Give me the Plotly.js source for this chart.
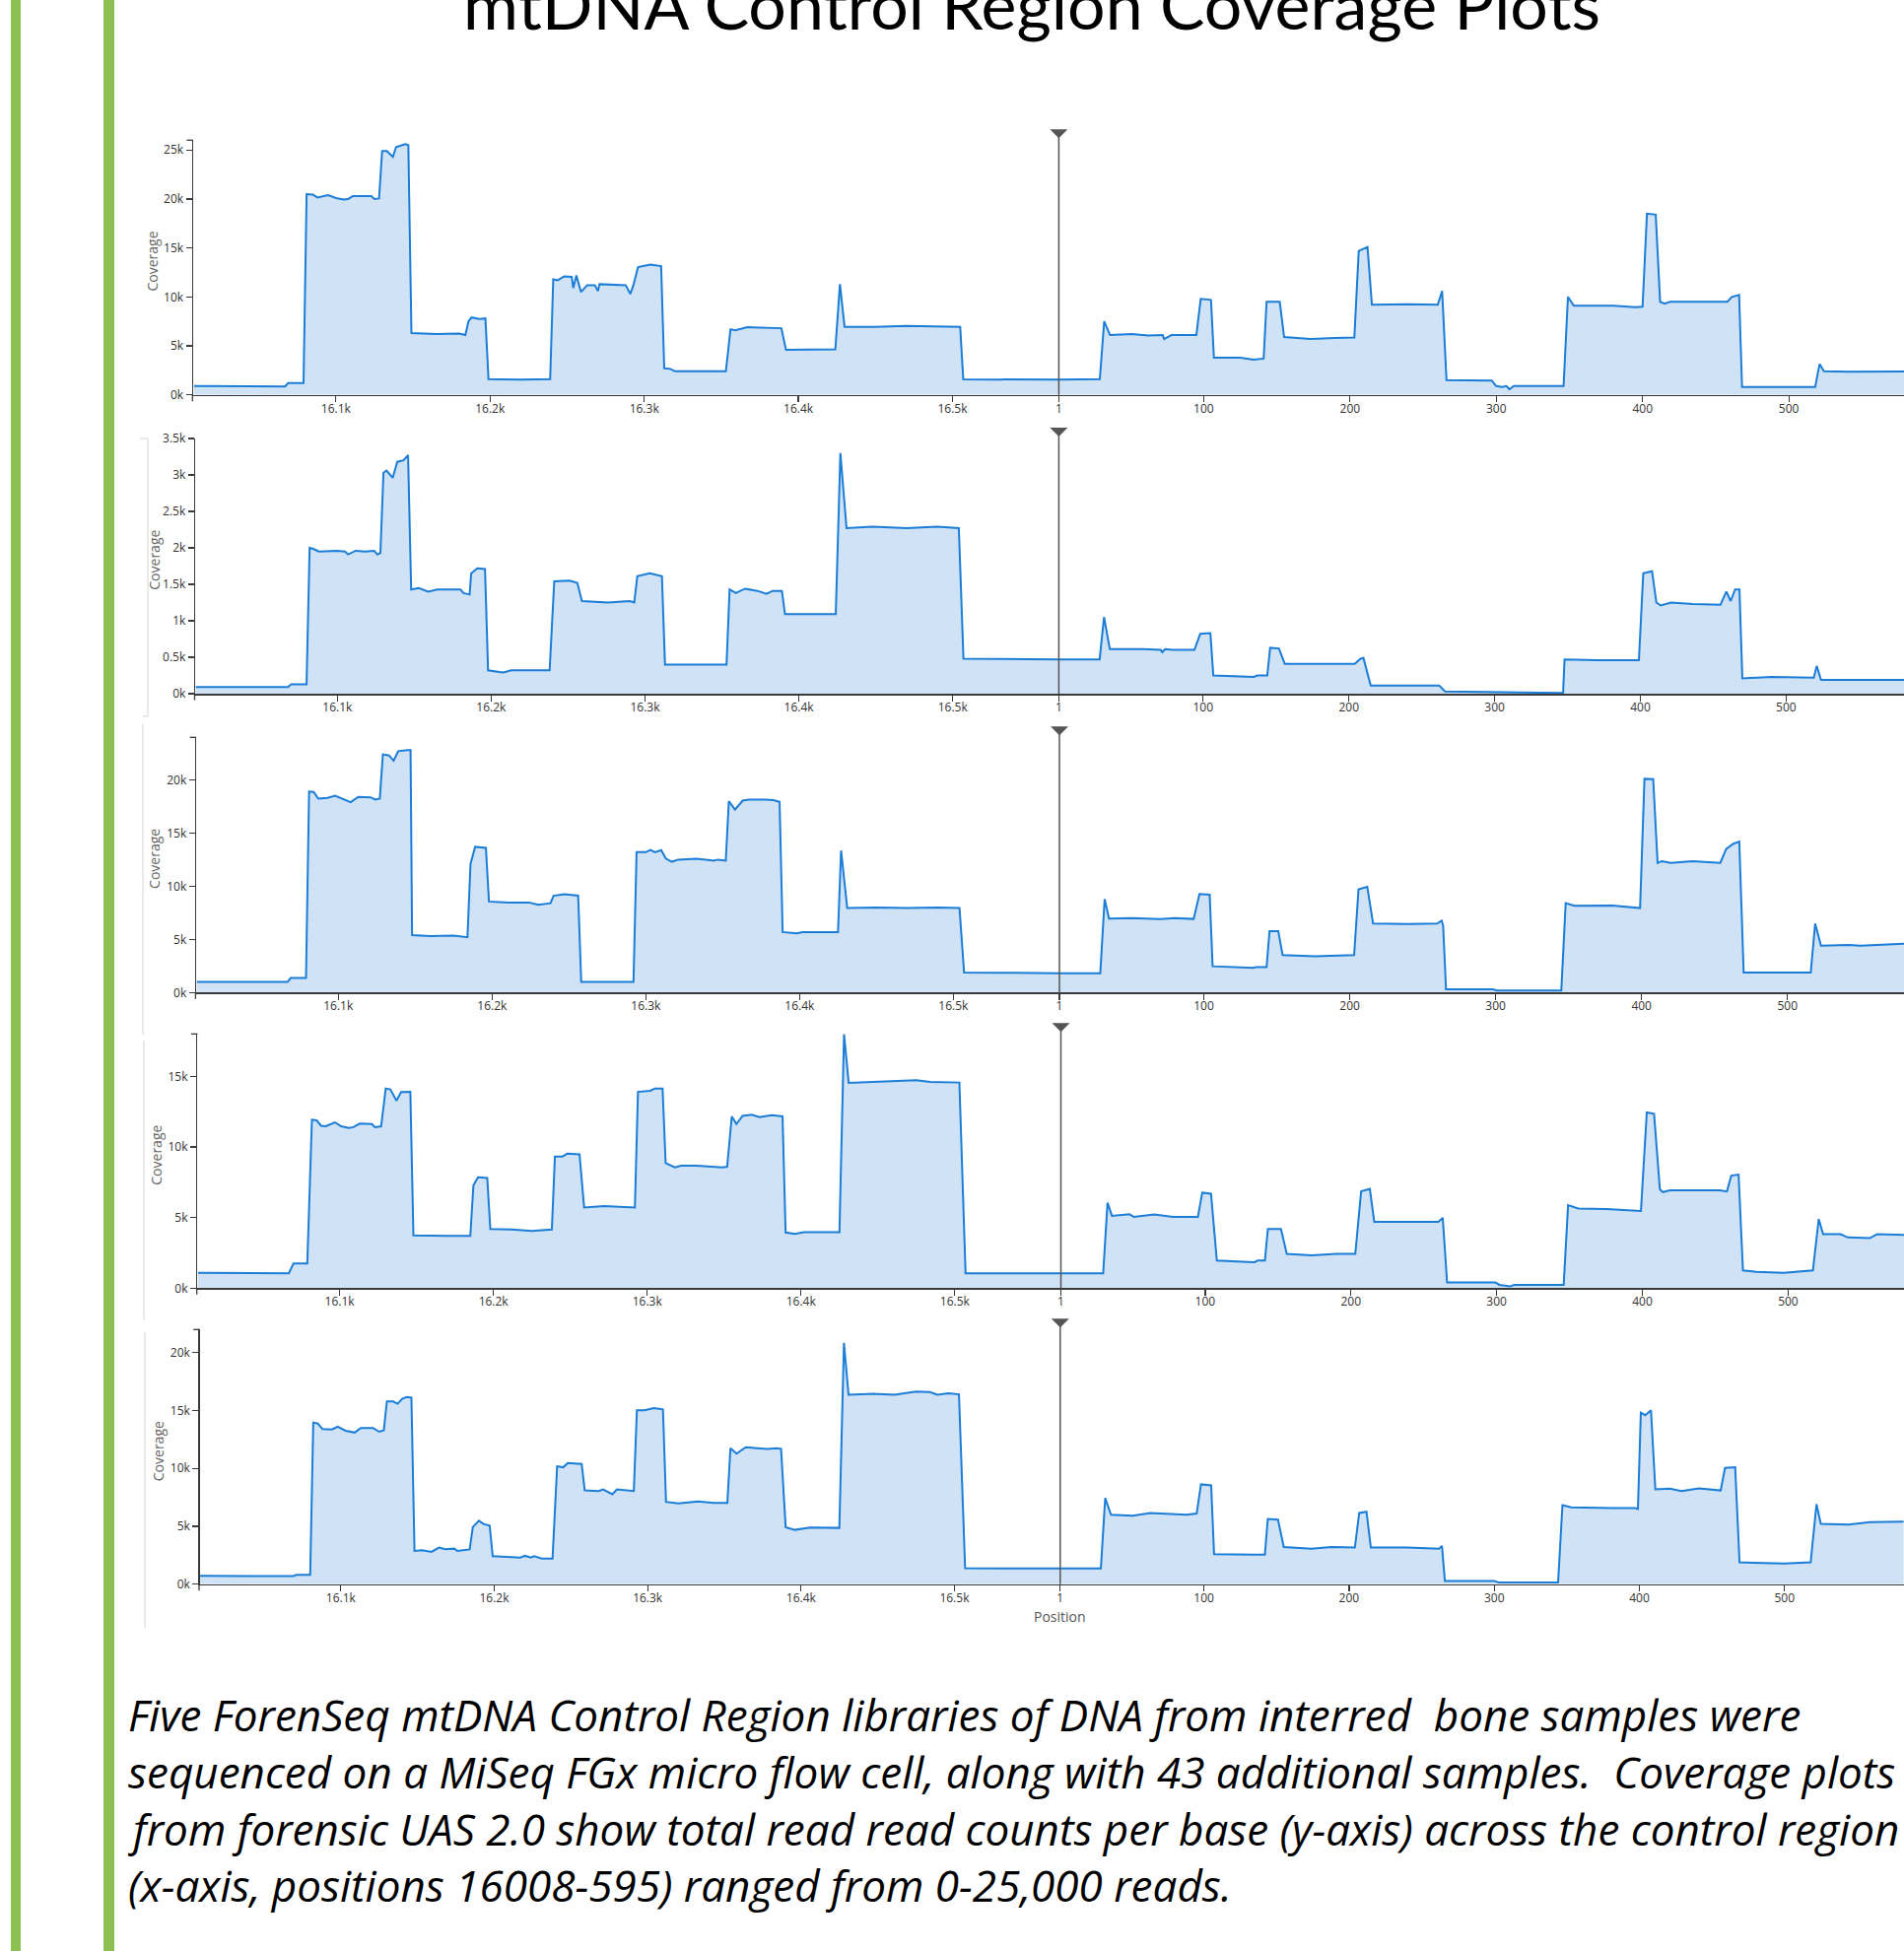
<!DOCTYPE html>
<html><head><meta charset="utf-8">
<script src="https://cdn.plot.ly/plotly-3.0.1.min.js"></script>
<style>html,body{margin:0;padding:0;background:#fff}#chart{width:1932px;height:1980px}</style>
</head><body><div id="chart"></div>
<script>
// ---------- DATA (position, reads) ----------
const leftTickVals = [16100, 16200, 16300, 16400, 16500];
const leftTickText = ['16.1k', '16.2k', '16.3k', '16.4k', '16.5k'];
const rightTickVals = [1, 100, 200, 300, 400, 500];
const rightTickText = ['1', '100', '200', '300', '400', '500'];
const yTicks25k = [0, 5000, 10000, 15000, 20000, 25000];
const yText25k = ['0k', '5k', '10k', '15k', '20k', '25k'];
const yTicks3k = [0, 500, 1000, 1500, 2000, 2500, 3000, 3500];
const yText3k = ['0k', '0.5k', '1k', '1.5k', '2k', '2.5k', '3k', '3.5k'];
const yTicks20k = [0, 5000, 10000, 15000, 20000];
const yText20k = ['0k', '5k', '10k', '15k', '20k'];
const yTicks15k = [0, 5000, 10000, 15000];
const yText15k = ['0k', '5k', '10k', '15k'];

const s1Left = [[16008,900],[16067,850],[16069,1200],[16079,1200],[16081,20500],[16085,20450],[16088,20150],[16095,20400],[16100,20100],[16105,19950],[16108,20000],[16111,20300],[16123,20300],[16125,20000],[16128,20050],[16130,24900],[16133,24900],[16137,24300],[16139,25300],[16145,25600],[16147,25500],[16149,6300],[16165,6200],[16180,6250],[16184,6100],[16186,7500],[16188,7900],[16193,7750],[16197,7800],[16199,1600],[16220,1550],[16239,1600],[16241,11800],[16244,11700],[16248,12100],[16253,12050],[16254,10900],[16256,12200],[16259,10500],[16263,11200],[16268,11200],[16270,10600],[16271,11300],[16288,11200],[16291,10300],[16293,11200],[16296,13050],[16304,13300],[16311,13150],[16313,2700],[16317,2650],[16320,2400],[16353,2400],[16356,6700],[16359,6600],[16367,6900],[16389,6800],[16392,4600],[16424,4650],[16427,11300],[16430,6950],[16450,6950],[16470,7050],[16490,7000],[16505,6950],[16507,1580],[16540,1550],[16569,1550]];
const s1Right = [[1,1550],[29,1600],[32,7500],[36,6100],[51,6200],[62,6050],[72,6100],[73,5700],[78,6100],[95,6100],[98,9800],[105,9700],[107,3800],[125,3800],[134,3600],[141,3700],[143,9500],[152,9500],[155,5900],[173,5700],[190,5800],[203,5850],[206,14700],[212,15100],[215,9200],[240,9250],[260,9200],[263,10600],[266,1500],[290,1500],[297,1450],[300,900],[304,800],[307,900],[309,570],[312,900],[346,900],[349,10000],[353,9100],[380,9100],[395,8950],[400,9000],[403,18500],[409,18400],[412,9500],[415,9300],[419,9500],[440,9500],[458,9500],[461,10000],[466,10200],[468,800],[500,800],[518,800],[521,3150],[524,2400],[541,2350],[560,2400],[582,2400]];

const s2Left = [[16008,90],[16068,90],[16070,130],[16080,130],[16082,2000],[16084,1990],[16088,1950],[16100,1960],[16105,1950],[16107,1910],[16112,1960],[16118,1950],[16124,1960],[16126,1910],[16128,1930],[16130,3030],[16132,3060],[16136,2960],[16139,3180],[16143,3200],[16146,3270],[16148,1430],[16153,1450],[16159,1400],[16165,1430],[16180,1430],[16182,1380],[16186,1360],[16187,1650],[16191,1720],[16196,1710],[16198,320],[16208,290],[16213,320],[16238,320],[16241,1540],[16251,1550],[16256,1520],[16259,1270],[16276,1250],[16290,1270],[16293,1250],[16295,1610],[16303,1650],[16311,1610],[16313,400],[16353,400],[16355,1430],[16359,1380],[16365,1440],[16373,1410],[16379,1370],[16383,1410],[16389,1410],[16391,1090],[16424,1090],[16427,3300],[16431,2270],[16448,2290],[16470,2270],[16490,2290],[16504,2270],[16507,480],[16540,470],[16569,470]];
const s2Right = [[1,470],[29,470],[32,1050],[36,610],[59,610],[71,600],[72,570],[74,610],[79,600],[94,600],[98,820],[105,830],[107,250],[135,230],[137,250],[144,250],[146,630],[152,620],[156,410],[190,410],[204,410],[208,480],[210,490],[215,110],[262,110],[266,30],[299,20],[347,10],[348,470],[370,460],[399,460],[402,1650],[408,1680],[411,1250],[414,1210],[421,1250],[436,1230],[455,1220],[459,1400],[462,1270],[465,1430],[468,1430],[470,210],[490,230],[519,220],[521,380],[524,190],[582,190]];

const s3Left = [[16008,990],[16067,990],[16069,1360],[16079,1360],[16081,18900],[16084,18860],[16087,18240],[16093,18300],[16098,18500],[16101,18300],[16108,17900],[16113,18400],[16121,18360],[16124,18150],[16127,18250],[16129,22400],[16133,22300],[16136,21800],[16139,22700],[16145,22800],[16147,22800],[16148,5400],[16160,5300],[16175,5350],[16184,5200],[16186,12100],[16189,13700],[16196,13600],[16198,8560],[16210,8470],[16224,8470],[16230,8250],[16234,8350],[16238,8400],[16240,9100],[16247,9240],[16256,9120],[16258,990],[16292,990],[16294,13200],[16300,13200],[16303,13400],[16306,13200],[16310,13400],[16313,12600],[16317,12300],[16321,12500],[16333,12580],[16342,12450],[16344,12400],[16347,12500],[16352,12400],[16354,18000],[16358,17200],[16363,18050],[16367,18150],[16378,18150],[16383,18100],[16387,17930],[16389,5690],[16398,5560],[16402,5690],[16425,5690],[16427,13350],[16431,7950],[16450,8000],[16470,7950],[16490,8000],[16504,7950],[16507,1890],[16540,1850],[16569,1820]];
const s3Right = [[1,1820],[29,1820],[32,8780],[35,6950],[51,7000],[70,6900],[80,7000],[93,6920],[97,9270],[104,9200],[106,2470],[134,2320],[136,2400],[143,2400],[145,5780],[151,5780],[154,3520],[176,3400],[203,3520],[206,9700],[212,9950],[216,6490],[240,6450],[260,6490],[263,6770],[264,6300],[266,310],[298,310],[301,190],[345,190],[348,8400],[354,8160],[380,8190],[399,7940],[402,20100],[408,20060],[411,12180],[414,12360],[420,12200],[435,12360],[454,12200],[458,13500],[463,14000],[467,14200],[470,1890],[500,1870],[516,1890],[519,6490],[523,4400],[542,4480],[550,4400],[582,4600]];

const s4Left = [[16008,1090],[16040,1080],[16067,1050],[16070,1750],[16079,1750],[16082,11930],[16085,11880],[16088,11500],[16091,11460],[16097,11740],[16101,11460],[16106,11340],[16109,11400],[16113,11650],[16121,11620],[16123,11390],[16127,11460],[16130,14140],[16133,14070],[16137,13280],[16140,13880],[16146,13900],[16148,3730],[16170,3700],[16185,3700],[16187,7270],[16190,7850],[16196,7800],[16198,4190],[16212,4150],[16225,4050],[16238,4150],[16240,9320],[16245,9320],[16248,9530],[16256,9480],[16259,5710],[16272,5820],[16292,5710],[16294,13900],[16302,13980],[16305,14140],[16310,14140],[16312,8850],[16318,8550],[16322,8670],[16332,8670],[16349,8550],[16352,8600],[16355,12160],[16358,11620],[16362,12200],[16368,12280],[16373,12110],[16381,12250],[16388,12160],[16390,3940],[16396,3850],[16402,3960],[16425,3960],[16428,17980],[16431,14540],[16447,14600],[16475,14720],[16484,14600],[16503,14560],[16507,1050],[16540,1050],[16569,1050]];
const s4Right = [[1,1050],[30,1050],[33,6060],[36,5120],[48,5240],[51,5050],[65,5220],[78,5050],[95,5050],[98,6760],[104,6690],[108,1960],[134,1840],[136,1960],[141,1960],[143,4190],[152,4190],[156,2420],[173,2330],[190,2420],[203,2420],[207,6850],[213,7030],[216,4700],[240,4700],[260,4700],[263,4980],[266,400],[299,400],[302,230],[309,120],[312,230],[346,230],[349,5870],[356,5640],[375,5600],[399,5470],[403,12440],[408,12350],[412,6990],[414,6800],[419,6920],[453,6920],[458,6850],[461,7970],[466,8040],[469,1260],[478,1160],[497,1090],[517,1260],[521,4890],[524,3820],[536,3820],[541,3590],[556,3540],[561,3820],[582,3770]];

const s5Left = [[16008,710],[16069,700],[16071,800],[16080,800],[16082,13970],[16085,13880],[16088,13400],[16094,13370],[16098,13600],[16103,13260],[16109,13100],[16113,13500],[16121,13500],[16125,13170],[16128,13300],[16130,15790],[16134,15790],[16137,15590],[16140,16020],[16143,16160],[16146,16120],[16148,2870],[16153,2930],[16159,2790],[16164,3160],[16168,3020],[16174,3070],[16176,2870],[16184,3000],[16186,4920],[16190,5490],[16193,5200],[16197,5060],[16199,2420],[16208,2360],[16217,2300],[16220,2450],[16224,2300],[16226,2420],[16231,2220],[16238,2220],[16241,10180],[16245,10100],[16248,10470],[16257,10380],[16259,8100],[16268,8050],[16271,8190],[16277,7770],[16280,8190],[16291,8050],[16293,15020],[16298,15020],[16304,15220],[16310,15100],[16312,7110],[16320,6970],[16333,7140],[16343,7030],[16352,7030],[16354,11750],[16358,11270],[16364,11830],[16378,11690],[16384,11750],[16387,11700],[16390,4920],[16396,4690],[16406,4900],[16425,4860],[16428,20850],[16431,16360],[16447,16440],[16461,16360],[16475,16640],[16484,16590],[16489,16360],[16496,16500],[16503,16400],[16507,1370],[16540,1350],[16569,1350]];
const s5Right = [[1,1350],[29,1350],[32,7430],[36,6000],[51,5920],[63,6150],[88,6000],[95,6100],[98,8620],[105,8530],[107,2590],[137,2500],[139,2550],[142,2550],[144,5630],[151,5580],[155,3210],[174,3070],[188,3210],[204,3160],[207,6150],[212,6260],[215,3160],[240,3160],[262,3070],[264,3300],[266,280],[300,280],[303,140],[344,140],[347,6830],[353,6630],[367,6570],[382,6570],[397,6570],[399,6500],[401,14820],[404,14600],[408,15020],[411,8190],[421,8250],[429,8050],[441,8280],[456,8100],[459,10040],[466,10100],[469,1880],[485,1860],[500,1790],[518,1880],[522,6910],[525,5210],[544,5150],[559,5350],[582,5400]];

const captionLines = [
  'Five ForenSeq mtDNA Control Region libraries of DNA from interred\u00a0 bone samples were',
  'sequenced on a MiSeq FGx micro flow cell, along with 43 additional samples.\u00a0 Coverage plots',
  'from forensic UAS 2.0 show total read read counts per base (y-axis) across the control region',
  '(x-axis, positions 16008-595) ranged from 0-25,000 reads.'
];
const titleText = 'mtDNA Control Region Coverage Plots';

// ---------- LAYOUT (pixel geometry) ----------
const W = 1932, H = 1980;
const px = x => x / W, py = y => 1 - y / H;
const panels = [
  {yAxisX:196.0, originX:1074.4, y0:400.7, top:142.3, yMax:26000, xStart:16007.4, xEnd:578.7, tv:yTicks25k, tt:yText25k, L:s1Left, R:s1Right},
  {yAxisX:198.2, originX:1074.4, y0:704.0, top:445.0, yMax:3500, xStart:16007.7, xEnd:580.9, tv:yTicks3k, tt:yText3k, L:s2Left, R:s2Right},
  {yAxisX:199.1, originX:1075.0, y0:1007.3, top:748.3, yMax:24000, xStart:16007.6, xEnd:579.9, tv:yTicks20k, tt:yText20k, L:s3Left, R:s3Right},
  {yAxisX:200.4, originX:1076.5, y0:1307.3, top:1049.3, yMax:18000, xStart:16007.6, xEnd:579.5, tv:yTicks15k, tt:yText15k, L:s4Left, R:s4Right},
  {yAxisX:202.7, originX:1075.8, y0:1607.7, top:1349.3, yMax:22000, xStart:16008.0, xEnd:582.3, tv:yTicks20k, tt:yText20k, L:s5Left, R:s5Right}
];

const LINE = '#1b7dd6', FILL = '#cfe2f6', AX = '#3a3a3a';
const tickFont = {family:'Open Sans, sans-serif', size:12, color:'#333'};
const axCommon = {showline:true, linecolor:AX, linewidth:1.5, ticks:'outside', ticklen:6, tickwidth:1.2,
  tickcolor:AX, showgrid:false, zeroline:false, tickfont:tickFont, fixedrange:true, tickmode:'array'};

const data = [], layout = {
  width:W, height:H, margin:{l:0, r:0, t:0, b:0}, paper_bgcolor:'#fff', plot_bgcolor:'rgba(0,0,0,0)',
  showlegend:false, font:{family:'Open Sans, sans-serif', color:'#333'}, shapes:[], annotations:[]
};
const xn = k => k === 1 ? 'x' : 'x' + k;
const yn = k => k === 1 ? 'y' : 'y' + k;
const ak = (a, k) => k === 1 ? a + 'axis' : a + 'axis' + k;

panels.forEach((p, i) => {
  const kl = 2 * i + 1, kr = 2 * i + 2, ky = i + 1;
  const mk = (pairs, xr) => ({
    type:'scatter', mode:'lines', x:pairs.map(d => d[0]), y:pairs.map(d => d[1]),
    xaxis:xn(xr), yaxis:yn(ky), line:{color:LINE, width:2}, fill:'tozeroy', fillcolor:FILL,
    hoverinfo:'skip', cliponaxis:true
  });
  data.push(mk(p.L, kl), mk(p.R, kr));
  layout[ak('y', ky)] = Object.assign({}, axCommon, {
    domain:[py(p.y0), py(p.top)], range:[0, p.yMax], tickvals:p.tv, ticktext:p.tt, anchor:xn(kl)
  });
  layout[ak('x', kl)] = Object.assign({}, axCommon, {
    domain:[px(p.yAxisX), px(p.originX)], range:[p.xStart, 16569], tickvals:leftTickVals, ticktext:leftTickText,
    anchor:yn(ky), ticklabelstandoff:-4
  });
  layout[ak('x', kr)] = Object.assign({}, axCommon, {
    domain:[px(p.originX), 1], range:[1, p.xEnd], tickvals:rightTickVals, ticktext:rightTickText,
    anchor:yn(ky), ticklabelstandoff:-4
  });
  // origin marker line + triangle
  layout.shapes.push({type:'line', xref:'paper', yref:'paper', x0:px(p.originX), x1:px(p.originX),
    y0:py(p.y0), y1:py(p.top - 4), line:{color:'#555', width:1.5}, layer:'above'});
  const tx = p.originX, tyT = p.top - 11, tyB = p.top - 2;
  layout.shapes.push({type:'path', xref:'paper', yref:'paper', layer:'above',
    path:`M ${px(tx - 9)} ${py(tyT)} L ${px(tx + 9)} ${py(tyT)} L ${px(tx)} ${py(tyB)} Z`,
    fillcolor:'#555', line:{width:0}});
  // outer end ticks (d3 style)
  if (p.yMax !== 3500) layout.shapes.push({type:'line', xref:'paper', yref:'paper', x0:px(p.yAxisX - 6.5), x1:px(p.yAxisX),
    y0:py(p.top), y1:py(p.top), line:{color:AX, width:1.3}});
  layout.shapes.push({type:'line', xref:'paper', yref:'paper', x0:px(p.yAxisX - 0.7), x1:px(p.yAxisX - 0.7),
    y0:py(p.y0), y1:py(p.y0 + 6.5), line:{color:AX, width:1.3}});
  // y axis title
  layout.annotations.push({text:'Coverage', xref:'paper', yref:'paper', x:px(p.yAxisX - 42), y:py((p.top + p.y0) / 2 - 6),
    textangle:-90, showarrow:false, xanchor:'center', yanchor:'middle', font:{family:'Open Sans, sans-serif', size:14, color:'#666'}});
});

// x-axis title (bottom panel)
layout.annotations.push({text:'Position', xref:'paper', yref:'paper', x:px(1075.8), y:py(1640), showarrow:false,
  xanchor:'center', yanchor:'middle', font:{family:'Open Sans, sans-serif', size:14, color:'#555'}});

// page title (cut by the top edge, as in the source)
const TS = 68;
layout.annotations.push({text:titleText, xref:'paper', yref:'paper', x:px(1047), y:py(30 - 0.387 * TS), showarrow:false,
  xanchor:'center', yanchor:'middle', font:{family:'Lato, sans-serif', size:TS, color:'#000'}});

// caption
const CS = 44, baselines = [1757.3, 1815, 1872.7, 1930];
captionLines.forEach((t, i) => layout.annotations.push({text:'<i>' + t + '</i>', xref:'paper', yref:'paper',
  x:px(128), y:py(baselines[i] - 0.388 * CS), showarrow:false, xanchor:'left', yanchor:'middle',
  font:{family:'Open Sans, sans-serif', size:CS, color:'#000'}}));

// green side bars
layout.shapes.push({type:'rect', xref:'paper', yref:'paper', x0:px(11), x1:px(21), y0:0, y1:1, fillcolor:'#8cc152', line:{width:0}, layer:'below'});
layout.shapes.push({type:'rect', xref:'paper', yref:'paper', x0:px(105), x1:px(116), y0:0, y1:1, fillcolor:'#8cc152', line:{width:0}, layer:'below'});

// faint panel border remnants
const faint = {color:'#d4d4d4', width:1};
[[150,445,150,727],[142,445,150,445],[145,727,150,727],[145,735,145,1050],[146,1056,146,1340],[147,1352,147,1652]].forEach(s =>
  layout.shapes.push({type:'line', xref:'paper', yref:'paper', x0:px(s[0]), y0:py(s[1]), x1:px(s[2]), y1:py(s[3]), line:faint, layer:'below'}));

Plotly.newPlot('chart', data, layout, {displayModeBar:false, staticPlot:true});
</script></body></html>
